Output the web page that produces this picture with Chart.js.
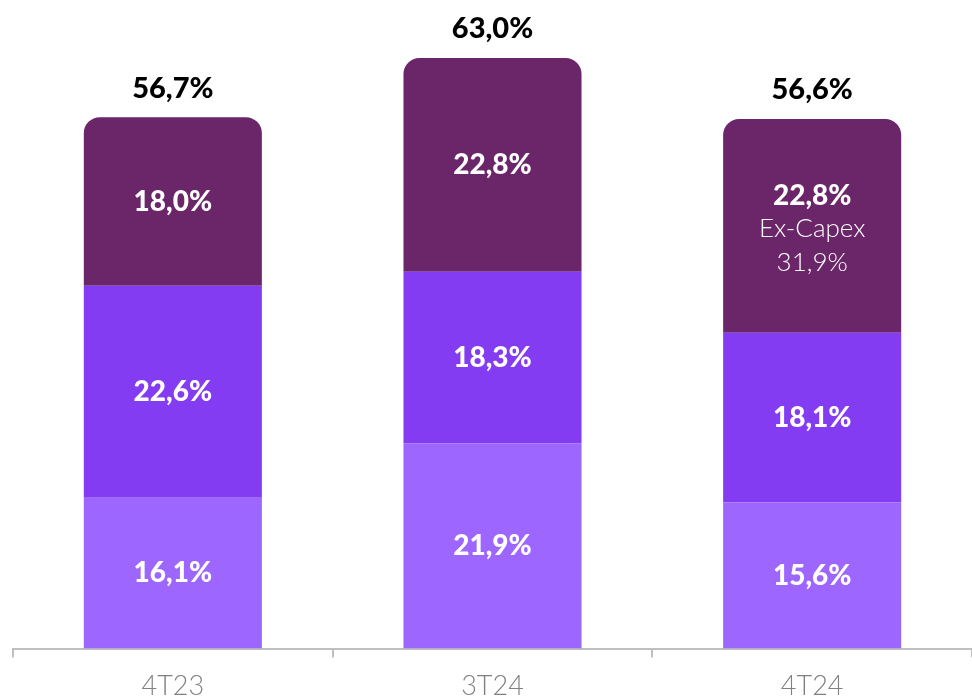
<!DOCTYPE html>
<html>
<head>
<meta charset="utf-8">
<script src="https://cdn.jsdelivr.net/npm/chart.js@4"></script>
<style>
  html, body { margin: 0; padding: 0; background: #fff; }
  #wrap { width: 972px; height: 700px; position: relative; }
</style>
</head>
<body>
<div id="wrap"><canvas id="grafico"></canvas></div>
<script>
// ===== Datos =====
const trimestres = ["4T23", "3T24", "4T24"];
const serieBase = [16.1, 21.9, 15.6];
const serieMedia = [22.6, 18.3, 18.1];
const serieTope = [18.0, 22.8, 22.8];
const totales = [56.7, 63.0, 56.6];
const notaTope = ["", "", "Ex-Capex"];
const notaValor = ["", "", "31,9%"];

const fmt = v => v.toFixed(1).replace(".", ",") + "%";
const FUENTE = "Lato, 'Open Sans', sans-serif";

// ===== Etiquetas =====
const etiquetas = {
  id: "etiquetas",
  afterDatasetsDraw(chart) {
    const ctx = chart.ctx;
    ctx.save();
    ctx.textAlign = "center";
    ctx.textBaseline = "middle";
    chart.data.datasets.forEach((ds, i) => {
      chart.getDatasetMeta(i).data.forEach((bar, j) => {
        const centro = (bar.y + bar.base) / 2;
        ctx.fillStyle = "#ffffff";
        if (i === 2 && notaTope[j]) {
          ctx.font = "900 28px " + FUENTE;
          ctx.fillText(fmt(ds.data[j]), bar.x, centro - 30);
          ctx.font = "300 26px " + FUENTE;
          ctx.fillText(notaTope[j], bar.x, centro + 3);
          ctx.fillText(notaValor[j], bar.x, centro + 37);
        } else {
          ctx.font = "900 28px " + FUENTE;
          ctx.fillText(fmt(ds.data[j]), bar.x, centro);
        }
        if (i === 2) {
          ctx.fillStyle = "#000000";
          ctx.font = "900 29px " + FUENTE;
          ctx.fillText(fmt(totales[j]), bar.x, bar.y - 29);
        }
      });
    });
    ctx.restore();
  }
};

new Chart(document.getElementById("grafico"), {
  type: "bar",
  data: {
    labels: trimestres,
    datasets: [
      { data: serieBase, backgroundColor: "#9d66ff", borderWidth: 0 },
      { data: serieMedia, backgroundColor: "#833cf1", borderWidth: 0 },
      { data: serieTope, backgroundColor: "#6a2669", borderWidth: 0,
        borderRadius: { topLeft: 16, topRight: 16, bottomLeft: 0, bottomRight: 0 },
        borderSkipped: false }
    ]
  },
  options: {
    responsive: true,
    maintainAspectRatio: false,
    animation: false,
    layout: { padding: { left: 13, right: 0, top: 0, bottom: -14 } },
    datasets: { bar: { categoryPercentage: 1, barPercentage: 0.557 } },
    plugins: { legend: { display: false }, tooltip: { enabled: false } },
    scales: {
      x: {
        stacked: true,
        border: { display: true, color: "#bfbfbf", width: 2 },
        grid: { display: true, drawOnChartArea: false, drawTicks: true, tickLength: 9, color: "#bfbfbf", lineWidth: 2 },
        ticks: { color: "#808080", padding: 12, font: { family: FUENTE, size: 27, weight: 300 } }
      },
      y: { stacked: true, display: false, min: 0, max: 69.2 }
    }
  },
  plugins: [etiquetas]
});
</script>
</body>
</html>
